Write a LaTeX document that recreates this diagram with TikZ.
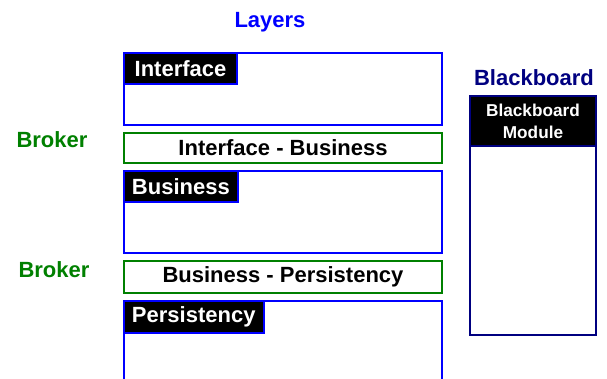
\documentclass[tikz,border=0pt]{standalone}
\usepackage{fontspec}
\setmainfont{Liberation Sans}
\usepackage{xcolor}

\begin{document}
\begin{tikzpicture}[x=0.5pt,y=-0.5pt,
    big/.style={font=\bfseries\fontsize{11}{13}\selectfont},
    layer/.style={draw=blue,line width=1pt,minimum width=159pt,inner sep=0pt},
    broker/.style={big,draw=green!50!black,line width=1pt,minimum width=159pt,inner sep=0pt},
    tag/.style={big,fill=black,draw=blue,line width=1pt,text=white,anchor=north west,
        inner xsep=4pt,inner ysep=0pt,minimum width=56.5pt,minimum height=15.5pt}]
\clip (0,0) rectangle (607,379);
\useasboundingbox (0,0) rectangle (607,379);
    % Titles
    \node[big,text=blue] (layers) at (270,22) {Layers};
    \node[big,text=blue!50!black] (bbtitle) at (534,78) {Blackboard};
    \node[big,text=green!50!black] (broker1) at (52,140) {Broker};
    \node[big,text=green!50!black] (broker2) at (54,270) {Broker};

    % Layers
    \node[layer,minimum height=36pt] (interface) at (283,89) {};
    \node[tag] (interfacetag) at (interface.north west) {Interface};
    \node[broker,minimum height=15pt] (ib) at (283,148) {Interface - Business};
    \node[layer,minimum height=41pt] (business) at (283,212) {};
    \node[tag] (businesstag) at (business.north west) {Business};
    \node[broker,minimum height=16pt] (bp) at (283,277) {Business - Persistency};
    \node[layer,minimum height=60pt] (persistency) at (283,361) {};
    \node[tag,minimum height=16pt] (persistencytag) at (persistency.north west) {Persistency};

    % Blackboard
    \node[draw=blue!50!black,line width=1pt,minimum width=63pt,minimum height=119.5pt,inner sep=0pt] (board) at (533,215.5) {};
    \node[tag,draw=blue!50!black,minimum width=63pt,minimum height=25pt,align=center,
        font=\bfseries\fontsize{8.6}{11}\selectfont] (module) at (board.north west) {Blackboard\\Module};
\end{tikzpicture}
\end{document}
